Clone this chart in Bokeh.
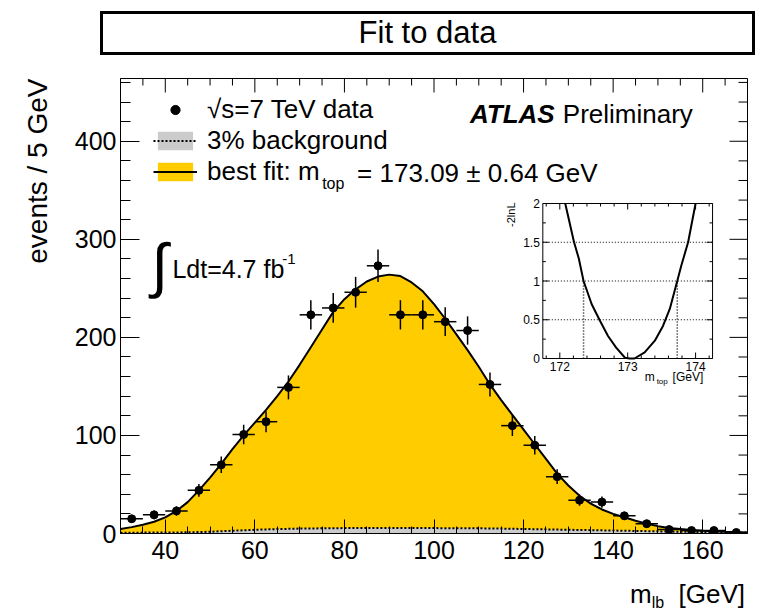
import numpy as np
from bokeh.plotting import figure
from bokeh.models import Range1d, LinearAxis, SingleIntervalTicker, Label, Legend, LegendItem, Div, Title
from bokeh.layouts import column
from bokeh.core.properties import value
from bokeh.embed import file_html
from bokeh.resources import INLINE

# ---------------- data ----------------
bin_centers = [32.5, 37.5, 42.5, 47.5, 52.5, 57.5, 62.5, 67.5, 72.5, 77.5, 82.5, 87.5, 92.5, 97.5,
               102.5, 107.5, 112.5, 117.5, 122.5, 127.5, 132.5, 137.5, 142.5, 147.5, 152.5, 157.5, 162.5, 167.5]
counts = [15, 19, 23, 44, 70, 101, 114, 149, 223, 230, 246, 273, 223, 223,
          216, 207, 152, 110, 90, 58, 34, 32, 18, 10, 4, 3, 3, 1]
count_errors = [3.9, 4.4, 4.8, 6.6, 8.4, 10.0, 10.7, 12.2, 14.9, 15.2, 15.7, 16.5, 14.9, 14.9,
                14.7, 14.4, 12.3, 10.5, 9.5, 7.6, 5.8, 5.7, 4.2, 3.2, 2.0, 1.7, 1.7, 1.0]
bin_width = 5.0

fit_mass = [30, 32.5, 35, 37.5, 40, 42.5, 45, 47.5, 50, 52.5, 55, 57.5, 60, 62.5, 65, 67.5, 70, 72.5, 75, 77.5,
            80, 82.5, 85, 87.5, 90, 92.5, 95, 97.5, 100, 102.5, 105, 107.5, 110, 112.5, 115, 117.5, 120, 122.5,
            125, 127.5, 130, 132.5, 135, 137.5, 140, 142.5, 145, 147.5, 150, 152.5, 155, 157.5, 160, 162.5,
            165, 167.5, 170]
fit_events = [4.5, 6.5, 9, 12, 16.5, 23, 32, 44, 57, 71, 86, 100, 113, 126, 140, 155, 172, 190, 208, 226,
              239, 249, 257, 262, 264, 262.5, 256, 247, 234, 219, 203, 187, 170, 152, 136, 121, 106, 91,
              76, 61, 49, 38.5, 30.5, 24.5, 20, 16.5, 13, 10, 7.5, 5.5, 4.5, 3.5, 2.8, 2.2,
              1.7, 1.3, 1.0]

bkg_mass = [30, 35, 40, 45, 50, 55, 60, 65, 70, 75, 80, 85, 90, 95, 100, 105, 110, 115, 120, 125,
            130, 135, 140, 145, 150, 155, 160, 165, 170]
bkg_events = [0.8, 0.9, 1.0, 1.2, 1.8, 2.8, 3.8, 4.5, 5.0, 5.3, 5.5, 5.6, 5.6, 5.6, 5.5, 5.4, 5.3, 5.0, 4.6, 4.2,
              3.8, 3.4, 3.0, 2.6, 2.2, 1.8, 1.5, 1.2, 1.0]

scan_mtop = [172.08, 172.21, 172.28, 172.35, 172.47, 172.59, 172.71, 172.83, 172.96, 173.03, 173.10,
             173.25, 173.40, 173.52, 173.62, 173.73, 173.79, 173.89, 174.00]
scan_m2lnl = [2.0, 1.5, 1.29, 1.0, 0.70, 0.49, 0.29, 0.14, 0.01, 0.0, 0.0,
              0.08, 0.23, 0.42, 0.64, 1.0, 1.2, 1.5, 2.0]
interval_mtop = [172.35, 173.73]
interval_level = 1.0
grid_levels = [0.5, 1.0, 1.5]

x_major_ticks = [40, 60, 80, 100, 120, 140, 160]
x_minor_ticks = [30, 35, 45, 50, 55, 65, 70, 75, 85, 90, 95, 105, 110, 115, 125, 130, 135, 145, 150, 155, 165, 170]
y_major_ticks = [100, 200, 300, 400]
y_minor_ticks = [20, 40, 60, 80, 120, 140, 160, 180, 220, 240, 260, 280, 320, 340, 360, 380, 420, 440, 460]

inset_x_major = [172, 173, 174]
inset_x_labels = ["172", "173", "174"]
inset_x_minor = [171.8, 172.2, 172.4, 172.6, 172.8, 173.2, 173.4, 173.6, 173.8, 174.2]
inset_y_major = [0, 0.5, 1, 1.5, 2]
inset_y_labels = ["0", "0.5", "1", "1.5", "2"]
inset_y_minor = [0.25, 0.75, 1.25, 1.75]

# ---------------- geometry ----------------
FONT = "Liberation Sans"
W, H = 757, 610
DIV_TOP, DIV_H, DIV_LEFT, DIV_W = 11, 44, 100, 655
XL_H = 30                                   # bottom strip holding the x-axis title
FIG_TOP = DIV_TOP + DIV_H
FIG_BOTTOM = H - XL_H
FH = FIG_BOTTOM - FIG_TOP
FL, FR, FT, FB = 119, 747, 78, 533          # frame in page pixels
X0, X1, Y0, Y1 = 30, 170, 0, 464

def dx(px):
    return X0 + (px - FL) * (X1 - X0) / (FR - FL)

def dy(py):
    return Y0 + (FB - py) * (Y1 - Y0) / (FB - FT)

PX_X = (X1 - X0) / (FR - FL)   # data units per pixel
PX_Y = (Y1 - Y0) / (FB - FT)

# inset box in page pixels and its data extent
IL, IR, IT, IB = 542, 712, 203, 358
IX0, IX1, IY0, IY1 = 171.75, 174.25, 0.0, 2.0
SX = (IR - IL) / (IX1 - IX0)
SY = (IB - IT) / (IY1 - IY0)

p = figure(width=W, height=FH, x_range=Range1d(X0, X1), y_range=Range1d(Y0, Y1),
           output_backend="svg", toolbar_location=None,
           x_axis_location=None, y_axis_location=None,
           min_border_left=FL, min_border_right=W - FR,
           min_border_top=FT - FIG_TOP, min_border_bottom=FIG_BOTTOM - FB)
p.grid.visible = False
p.outline_line_color = "black"
p.background_fill_color = "white"
p.border_fill_color = "white"

p.extra_x_ranges = {"ix": Range1d(IX0 - (IL - FL) / SX, IX1 + (FR - IR) / SX)}
p.extra_y_ranges = {"iy": Range1d(IY0 - (FB - IB) / SY, IY1 + (IT - FT) / SY)}

def style_axis(ax, major, minor, standoff):
    ax.axis_line_color = "black"
    ax.axis_line_width = 1
    ax.major_tick_in = major
    ax.major_tick_out = 0
    ax.minor_tick_in = minor
    ax.minor_tick_out = 0
    ax.major_tick_line_color = "black"
    ax.minor_tick_line_color = "black"
    ax.major_label_text_font = FONT
    ax.major_label_text_font_size = "25px"
    ax.major_label_text_color = "black"
    ax.major_label_standoff = standoff

bottom = LinearAxis(ticker=SingleIntervalTicker(interval=20, num_minor_ticks=4))
style_axis(bottom, 14, 7, 7)
left = LinearAxis(ticker=SingleIntervalTicker(interval=100, num_minor_ticks=5))
style_axis(left, 19, 10, 4)
p.add_layout(bottom, "below")
p.add_layout(left, "left")

# y-axis title, right-aligned to the top of the axis (ROOT style)
p.add_layout(Title(text="events / 5 GeV", align="right", text_font=FONT, text_font_size="28px",
                   text_font_style="normal", text_color="black", standoff=38, offset=0), "left")

# tick marks on the top and right frame edges
p.segment(x0=x_major_ticks, x1=x_major_ticks, y0=[Y1] * 7, y1=[Y1 - 14 * PX_Y] * 7, line_color="black", line_width=1)
p.segment(x0=x_minor_ticks, x1=x_minor_ticks, y0=[Y1] * len(x_minor_ticks),
          y1=[Y1 - 7 * PX_Y] * len(x_minor_ticks), line_color="black", line_width=1)
p.segment(x0=[X1] * 4, x1=[X1 - 18 * PX_X] * 4, y0=y_major_ticks, y1=y_major_ticks, line_color="black", line_width=1)
p.segment(x0=[X1] * len(y_minor_ticks), x1=[X1 - 9 * PX_X] * len(y_minor_ticks), y0=y_minor_ticks,
          y1=y_minor_ticks, line_color="black", line_width=1)

# ---------------- main plot ----------------
YELLOW = "#ffcc00"
GREY = "#cbcbcb"
fit_area = p.varea(x=fit_mass, y1=0, y2=fit_events, fill_color=YELLOW)
bkg_area = p.varea(x=bkg_mass, y1=0, y2=bkg_events, fill_color=GREY)
bkg_line = p.line(bkg_mass, bkg_events, line_color="black", line_width=2, line_dash="2 2")
fit_line = p.line(fit_mass, fit_events, line_color="black", line_width=2)

bc = np.array(bin_centers, dtype=float)
ct = np.array(counts, dtype=float)
er = np.array(count_errors, dtype=float)
p.segment(x0=bc - bin_width / 2, y0=ct, x1=bc + bin_width / 2, y1=ct, line_color="black", line_width=1.5)
p.segment(x0=bc, y0=ct - er, x1=bc, y1=ct + er, line_color="black", line_width=1.5)
pts = p.scatter(bc, ct, size=8, marker="circle", fill_color="black", line_color="black")

legend = Legend(items=[LegendItem(label="√s=7 TeV data", renderers=[pts]),
                       LegendItem(label="3% background", renderers=[bkg_area, bkg_line]),
                       LegendItem(label="best fit: m", renderers=[fit_area, fit_line])],
                location=(152 - FL, FB - 187), orientation="vertical",
                padding=0, margin=0, spacing=0, glyph_width=44, glyph_height=23,
                label_height=30, label_standoff=10,
                label_text_font=FONT, label_text_font_size="26px", label_text_color="black",
                background_fill_alpha=0, border_line_color=None)
p.add_layout(legend)

def label(text, px, py, size, align="left", baseline="middle", style="normal", angle=0, font=FONT):
    p.add_layout(Label(x=dx(px), y=dy(py), text=text, text_font=font, text_font_size=size,
                       text_align=align, text_baseline=baseline, text_font_style=style,
                       angle=angle, text_color="black"))

label("top", 321, 183, "16px")
label("= 173.09 ± 0.64 GeV", 356, 172, "26px")
label("ATLAS", 469, 113, "26px", style="bold italic")
label("Preliminary", 562, 113, "26px")
label("∫", 150, 265, "60px")
label("Ldt=4.7 fb", 171, 268, "25px")
label("-1", 281, 258, "15px")

# ---------------- inset (-2lnL scan) ----------------
IR_ = dict(x_range_name="ix", y_range_name="iy")
p.quad(left=IX0, right=IX1, bottom=IY0, top=IY1, fill_color="white", line_color="black", line_width=1, **IR_)
p.segment(x0=[IX0] * len(grid_levels), x1=[IX1] * len(grid_levels), y0=grid_levels, y1=grid_levels,
          line_color="black", line_width=1, line_dash="1 2", **IR_)
p.segment(x0=interval_mtop, x1=interval_mtop, y0=[IY0] * 2, y1=[interval_level] * 2,
          line_color="black", line_width=1.5, line_dash="1 2", **IR_)
p.line(scan_mtop, scan_m2lnl, line_color="black", line_width=2, **IR_)

def xticks(vals, length_px):
    L = length_px / SY
    n = len(vals)
    p.segment(x0=vals, x1=vals, y0=[IY0] * n, y1=[IY0 + L] * n, line_color="black", line_width=1, **IR_)
    p.segment(x0=vals, x1=vals, y0=[IY1] * n, y1=[IY1 - L] * n, line_color="black", line_width=1, **IR_)

def yticks(vals, length_px):
    L = length_px / SX
    n = len(vals)
    p.segment(x0=[IX0] * n, x1=[IX0 + L] * n, y0=vals, y1=vals, line_color="black", line_width=1, **IR_)
    p.segment(x0=[IX1] * n, x1=[IX1 - L] * n, y0=vals, y1=vals, line_color="black", line_width=1, **IR_)

xticks(inset_x_major, 6)
xticks(inset_x_minor, 3)
yticks(inset_y_major, 6)
yticks(inset_y_minor, 3)

p.text(x=inset_x_major, y=[IY0 - 8 / SY] * 3, text=inset_x_labels, text_font=value(FONT),
       text_font_size="12px", text_align="center", text_baseline="middle", text_color="black", **IR_)
p.text(x=[IX0 - 3 / SX] * 5, y=inset_y_major, text=inset_y_labels, text_font=value(FONT),
       text_font_size="12px", text_align="right", text_baseline="middle", text_color="black", **IR_)

def ilabel(text, px, py, size, align="left", angle=0):
    p.text(x=[IX0 + (px - IL) / SX], y=[IY0 + (IB - py) / SY], text=[text], text_font=value(FONT),
           text_font_size=size, text_align=align, text_baseline="middle", angle=angle,
           text_color="black", **IR_)

ilabel("-2lnL", 510, 202, "11px", align="right", angle=np.pi / 2)
ilabel("m", 644, 376, "12px")
ilabel("top", 656, 381, "8px")
ilabel("[GeV]", 672, 376, "12px")

# ---------------- title box and x-axis title ----------------
title_div = Div(text='<div style="width:%dpx;font-family:\'Liberation Sans\',sans-serif;font-size:31px;'
                     'line-height:%dpx;text-align:center;color:#000;">Fit to data</div>' % (DIV_W - 6, DIV_H - 6),
                width=DIV_W, height=DIV_H, margin=(DIV_TOP, 0, 0, DIV_LEFT),
                styles={"border": "3px solid #000", "box-sizing": "border-box", "background-color": "white"})

xlabel_div = Div(text='<div style="width:745px;font-family:\'Liberation Sans\',sans-serif;font-size:26px;'
                      'line-height:28px;text-align:right;color:#000;white-space:nowrap;">'
                      'm<span style="font-size:16px;position:relative;top:5px;">lb</span>&nbsp; [GeV]</div>',
                 width=W, height=XL_H, margin=(0, 0, 0, 0))

layout = column(title_div, p, xlabel_div, spacing=0)
open("out.html", "w").write(file_html(layout, INLINE))
